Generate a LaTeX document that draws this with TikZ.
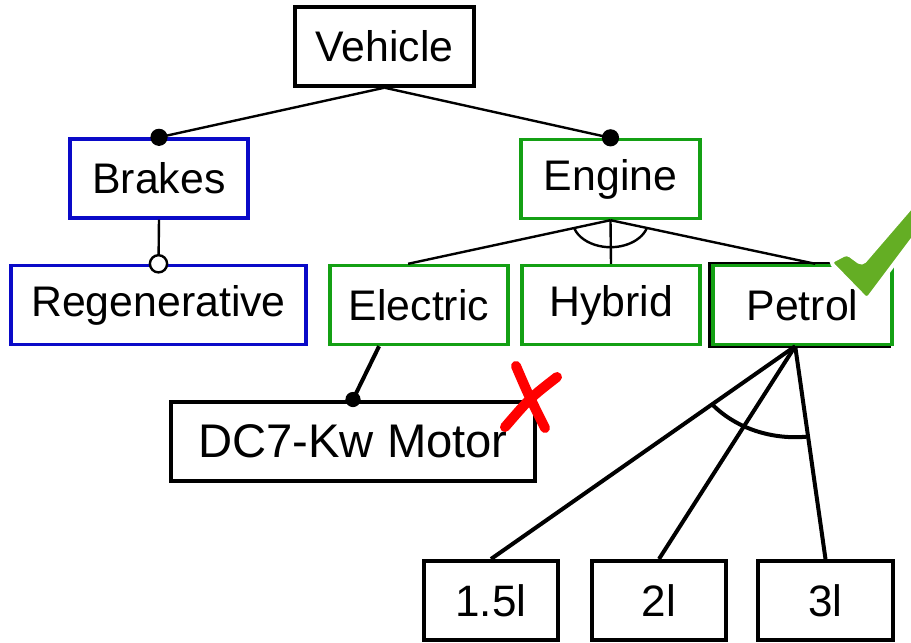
\documentclass[tikz,border=0pt]{standalone}
\usepackage{fontspec}
\setmainfont{Liberation Sans}
\usetikzlibrary{calc}

\definecolor{featblue}{RGB}{10,10,200}
\definecolor{featgreen}{RGB}{20,160,20}
\definecolor{tickgreen}{RGB}{100,174,36}

\begin{document}
\begin{tikzpicture}[x=0.5pt, y=-0.5pt,
    every node/.style={font=\fontsize{21.4}{25}\selectfont},
    feat/.style={draw, line width=1.7pt, fill=white, minimum height=39.5pt, inner sep=0pt},
    bluefeat/.style={feat, draw=featblue},
    greenfeat/.style={feat, draw=featgreen},
    leaf/.style={feat, line width=2pt, font=\fontsize{22}{26}\selectfont},
    link/.style={line width=1.2pt},
    boldlink/.style={line width=2pt}]

    \useasboundingbox (0,0) rectangle (911,643);

    % Shadow behind Petrol
    \draw[line width=1.7pt] (710,264) rectangle (889,346);

    % Features
    \node[feat, minimum width=89.5pt] (vehicle) at (384.5,46.5) {Vehicle};
    \node[bluefeat, minimum width=89pt] (brakes) at (159,178.5) {Brakes};
    \node[greenfeat, minimum width=89.5pt] (engine) at (610.5,179) {Engine};
    \node[bluefeat, minimum width=147.5pt] (regen) at (158.5,305) {Regenerative};
    \node[greenfeat, minimum width=89pt] (electric) at (419,305) {Electric};
    \node[greenfeat, minimum width=89pt] (hybrid) at (611,305) {Hybrid};
    \node[greenfeat, minimum width=89.5pt] (petrol) at (802.5,305) {Petrol};
    \node[leaf, minimum width=182pt, font=\fontsize{23.6}{28}\selectfont] (motor) at (353,441) {DC7-Kw Motor};
    \node[leaf, minimum width=67pt] (l15) at (491,600.5) {1.5l};
    \node[leaf, minimum width=67pt] (l2) at (659,600.5) {2l};
    \node[leaf, minimum width=67.5pt] (l3) at (825.5,600.5) {3l};

    % Mandatory children of Vehicle
    \draw[link] (vehicle.south) -- (brakes.north);
    \draw[link] (vehicle.south) -- (engine.north);
    \fill (brakes.north) circle[radius=4.3pt];
    \fill (engine.north) circle[radius=4.3pt];

    % Optional child of Brakes
    \draw[link] (brakes.south) -- (regen.north);
    \draw[link, fill=white] (regen.north) circle[radius=4.3pt];

    % Alternative group under Engine
    \coordinate (eltop) at ($(electric.north west)!0.44!(electric.north east)$);
    \coordinate (pettop) at ($(petrol.north west)!0.57!(petrol.north east)$);
    \draw[link] (engine.south) -- (eltop);
    \draw[link] (engine.south) -- (hybrid.north);
    \draw[link] (engine.south) -- (pettop);
    \draw[link] ([shift={(18:38 and 27)}]engine.south)
        arc[start angle=18, end angle=162, x radius=38, y radius=27];

    % Electric requires the motor
    \coordinate (elbot) at ($(electric.south west)!0.28!(electric.south east)$);
    \draw[boldlink] (elbot) -- (motor.north);
    \fill (motor.north) circle[radius=3.8pt];

    % Alternative group under Petrol
    \coordinate (petbot) at ($(petrol.south west)!0.46!(petrol.south east)$);
    \draw[boldlink] (petbot) -- (l15.north);
    \draw[boldlink] (petbot) -- (l2.north);
    \draw[boldlink] (petbot) -- (l3.north);
    \draw[boldlink] ([shift={(83.3:108 and 91)}]petbot)
        arc[start angle=83.3, end angle=139.6, x radius=108, y radius=91];

    % Red cross
    \draw[red, line width=5pt, line cap=round] (516,366) .. controls (528,394) .. (545,428);
    \draw[red, line width=5pt, line cap=round] (557,377) .. controls (530,398) .. (505,427);

    % Green tick
    \filldraw[draw=white, line width=2pt, fill=tickgreen, rounded corners=2pt]
        (830,262) -- (847,253) -- (862,264) -- (918,199) -- (918,232) -- (867,300) -- cycle;

\end{tikzpicture}
\end{document}
